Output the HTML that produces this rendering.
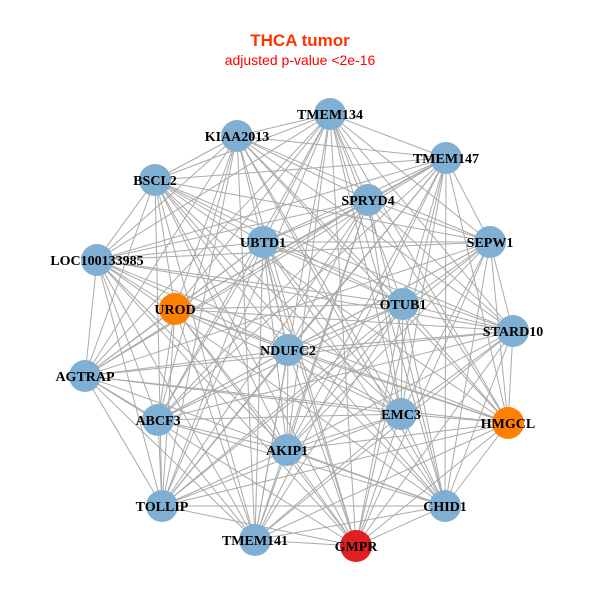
<!DOCTYPE html>
<html><head><meta charset="utf-8"><style>
html,body{margin:0;padding:0;background:#fff;}
svg{display:block;}
</style></head><body>
<svg id="s" width="600" height="600" xmlns="http://www.w3.org/2000/svg">
<rect width="600" height="600" fill="#fff"/>
<text x="300" y="46" text-anchor="middle" font-family="Liberation Sans, sans-serif" font-weight="bold" font-size="17" fill="#ff3300">THCA tumor</text>
<text x="300" y="65" text-anchor="middle" font-family="Liberation Sans, sans-serif" font-size="14" fill="#ff0000">adjusted p-value &lt;2e-16</text>
<g id="edges" stroke="#aaaaaa" stroke-width="1"></g>
<g id="nodes"></g>
</svg>
<script>
var N=[["TMEM134",330,114,"#7fb0d4"],["KIAA2013",237,136,"#7fb0d4"],["TMEM147",446,158,"#7fb0d4"],["BSCL2",155,180,"#7fb0d4"],["SPRYD4",368,200,"#7fb0d4"],["UBTD1",263,242,"#7fb0d4"],["SEPW1",490,242,"#7fb0d4"],["LOC100133985",97,260,"#7fb0d4"],["UROD",175,309,"#ff8000"],["OTUB1",403,304,"#7fb0d4"],["STARD10",513,331,"#7fb0d4"],["NDUFC2",288,350,"#7fb0d4"],["AGTRAP",85,376,"#7fb0d4"],["EMC3",401,414,"#7fb0d4"],["HMGCL",508,423,"#ff8000"],["ABCF3",158,420,"#7fb0d4"],["AKIP1",287,450,"#7fb0d4"],["TOLLIP",162,506,"#7fb0d4"],["CHID1",445,506,"#7fb0d4"],["TMEM141",255,540,"#7fb0d4"],["GMPR",356,546,"#e02020"]];
var ns="http://www.w3.org/2000/svg",E=document.getElementById("edges"),G=document.getElementById("nodes");
for(var i=0;i<N.length;i++)for(var j=i+1;j<N.length;j++){
 if((i*7+j*3)%11==0)continue;
 var l=document.createElementNS(ns,"line");
 l.setAttribute("x1",N[i][1]);l.setAttribute("y1",N[i][2]);l.setAttribute("x2",N[j][1]);l.setAttribute("y2",N[j][2]);E.appendChild(l);}
N.forEach(function(n){
 var c=document.createElementNS(ns,"circle");c.setAttribute("cx",n[1]);c.setAttribute("cy",n[2]);c.setAttribute("r",16);c.setAttribute("fill",n[3]);G.appendChild(c);});
N.forEach(function(n){
 var t=document.createElementNS(ns,"text");t.setAttribute("x",n[1]);t.setAttribute("y",n[2]+5);t.setAttribute("text-anchor","middle");
 t.setAttribute("font-family","Liberation Serif, serif");t.setAttribute("font-weight","bold");t.setAttribute("font-size","14");t.setAttribute("fill","#000");
 t.textContent=n[0];G.appendChild(t);});
</script>
</body></html>
